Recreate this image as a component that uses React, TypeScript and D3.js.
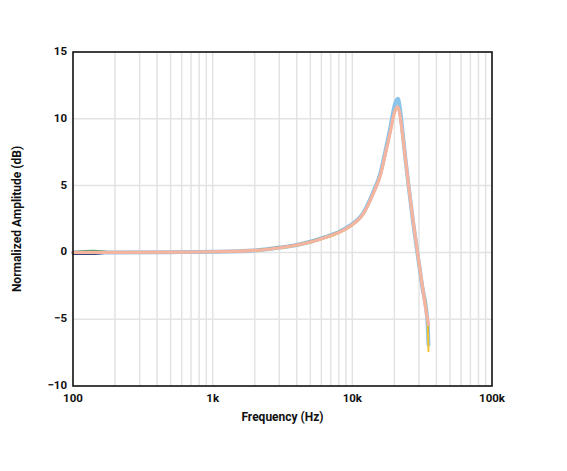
import React from "react";
import * as d3 from "d3";

const freqHz = [100, 140, 200, 500, 1000, 2000, 3000, 4000, 5000, 6300, 8000, 9600, 12000, 14100, 15800, 17100, 18600, 20200, 21200, 21900, 22900, 24000, 25300, 27200, 29300, 31600, 34500, 35100];

const salmonDb = [0, 0, 0, 0.02, 0.05, 0.15, 0.35, 0.55, 0.78, 1.1, 1.5, 1.95, 2.9, 4.4, 5.7, 7.2, 8.9, 10.6, 10.9, 10.3, 8.8, 7.0, 5.0, 2.4, 0.0, -2.4, -5.0, -5.4];
const blueDb = [0, 0, 0, 0.02, 0.05, 0.15, 0.36, 0.56, 0.8, 1.12, 1.53, 2.0, 2.97, 4.5, 5.85, 7.4, 9.2, 11.1, 11.5, 10.8, 9.0, 7.0, 4.95, 2.3, -0.1, -2.5, -5.2, -6.9];
const yellowDb = [0, 0, 0, 0.02, 0.04, 0.12, 0.32, 0.52, 0.74, 1.05, 1.45, 1.9, 2.85, 4.35, 5.65, 7.15, 8.85, 10.5, 10.8, 10.2, 8.7, 6.9, 4.9, 2.35, -0.05, -2.45, -5.1, -7.4];
const greenDb = [0.05, 0.15, 0.02, 0.03, 0.06, 0.18, 0.4, 0.6, 0.84, 1.16, 1.56, 2.0, 2.95, 4.45, 5.75, 7.25, 8.95, 10.65, 10.95, 10.3, 8.75, 6.95, 4.95, 2.35, -0.05, -2.45, -4.8, -5.6];
const navyDb = [-0.15, -0.15, 0, 0.0, 0.03, 0.12, 0.32, 0.52, 0.74, 1.06, 1.46, 1.92, 2.87, 4.38, 5.68, 7.18, 8.88, 10.58, 10.88, 10.28, 8.78, 6.98, 4.98, 2.38, -0.02, -2.42, -5.0, -6.0];

const yTicks = [-10, -5, 0, 5, 10, 15];
const xTicks = [100, 1000, 10000, 100000];
const xTickLabels = ["100", "1k", "10k", "100k"];

const series = [
  { name: "blue", values: blueDb, color: "#8cc3e8", width: 4 },
  { name: "navy", values: navyDb, color: "#3a4a78", width: 1.3 },
  { name: "green", values: greenDb, color: "#3c9a62", width: 1.3 },
  { name: "yellow", values: yellowDb, color: "#f4c232", width: 2 },
  { name: "salmon", values: salmonDb, color: "#f4b4a0", width: 3.2 },
];

const W = 567;
const H = 471;
const M = { left: 73, right: 492, top: 52, bottom: 386 };

export default function App() {
  const x = d3.scaleLog().domain([100, 100000]).range([M.left, M.right]);
  const y = d3.scaleLinear().domain([-10, 15]).range([M.bottom, M.top]);

  const minor: number[] = [];
  [100, 1000, 10000].forEach((dec) => {
    for (let k = 1; k <= 9; k++) {
      if (k === 1 && dec === 100) continue;
      minor.push(dec * k);
    }
  });

  const line = (vals: number[]) =>
    d3
      .line<number>()
      .x((_, i) => x(freqHz[i]))
      .y((v) => y(v))
      .curve(d3.curveMonotoneX)(vals) || "";

  const font = "Roboto, 'Liberation Sans', Arial, sans-serif";

  return (
    <svg width={W} height={H} style={{ position: "absolute", left: 0, top: 0, background: "#fff" }}>
      <rect x={0} y={0} width={W} height={H} fill="#fff" />
      {minor.map((f) => (
        <line key={"v" + f} x1={x(f)} x2={x(f)} y1={M.top} y2={M.bottom} stroke="#e3e3e3" strokeWidth={1.5} />
      ))}
      {yTicks
        .filter((t) => t > -10 && t < 15)
        .map((t) => (
          <line key={"h" + t} x1={M.left} x2={M.right} y1={y(t)} y2={y(t)} stroke="#e3e3e3" strokeWidth={1.5} />
        ))}
      {series.map((s) => (
        <path
          key={s.name}
          d={line(s.values)}
          fill="none"
          stroke={s.color}
          strokeWidth={s.width}
          strokeLinejoin="round"
          strokeLinecap="round"
        />
      ))}
      <rect
        x={M.left}
        y={M.top}
        width={M.right - M.left}
        height={M.bottom - M.top}
        fill="none"
        stroke="#111"
        strokeWidth={1.6}
      />
      {yTicks.map((t) => (
        <text
          key={"yl" + t}
          x={M.left - 6}
          y={y(t)}
          textAnchor="end"
          dominantBaseline="middle"
          fontFamily={font}
          fontWeight={700}
          fontSize={11.5}
          fill="#111"
        >
          {t < 0 ? "\u2212" + Math.abs(t) : String(t)}
        </text>
      ))}
      {xTicks.map((t, i) => (
        <text
          key={"xl" + t}
          x={x(t)}
          y={402}
          textAnchor="middle"
          fontFamily={font}
          fontWeight={700}
          fontSize={11.5}
          fill="#111"
        >
          {xTickLabels[i]}
        </text>
      ))}
      <text
        x={(M.left + M.right) / 2}
        y={421}
        textAnchor="middle"
        fontFamily={font}
        fontWeight={700}
        fontSize={12}
        fill="#111"
      >
        Frequency (Hz)
      </text>
      <text
        transform={`translate(21, ${(M.top + M.bottom) / 2}) rotate(-90)`}
        textAnchor="middle"
        fontFamily={font}
        fontWeight={700}
        fontSize={12}
        fill="#111"
      >
        Normalized Amplitude (dB)
      </text>
    </svg>
  );
}
